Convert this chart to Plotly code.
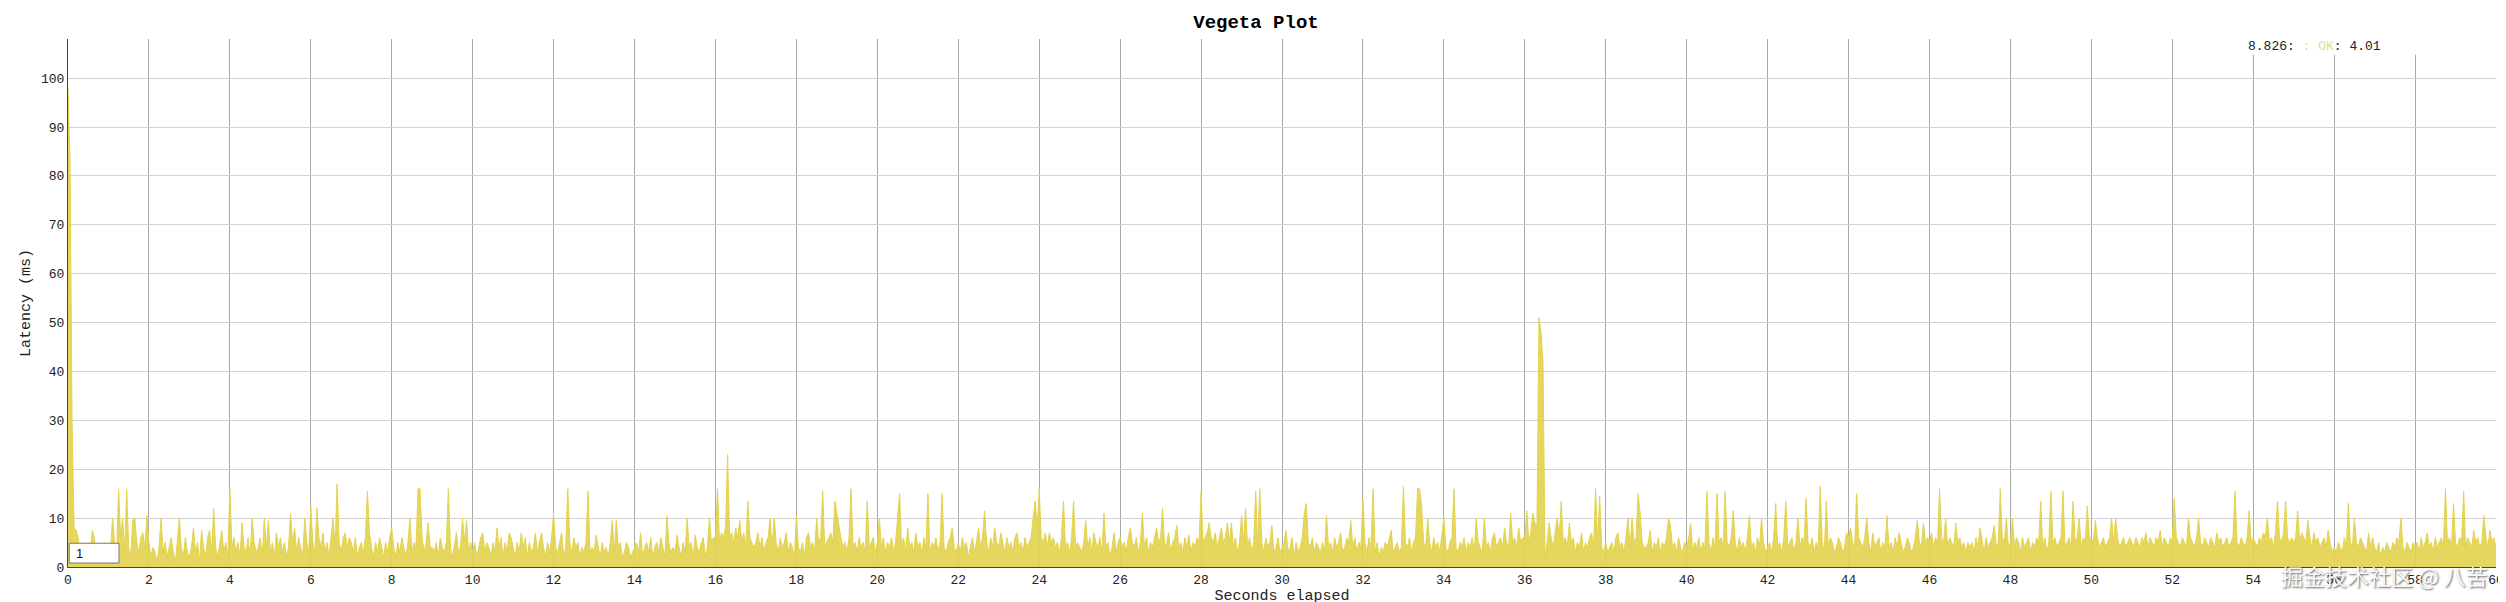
import plotly.graph_objects as go

# Sample spacing of the latency series (seconds)
step = 0.05

# Latency (ms), one row per second elapsed, 20 samples per row
latency_rows = [
    [98, 83, 30, 8, 7.5, 6, 3, 1, 4, 2, 5, 3, 7.5, 6, 2, 4, 1, 3, 5, 2],
    [4, 3, 10, 5, 2, 16, 6, 10, 3, 16, 4, 2, 9.5, 10, 5, 3, 6, 7, 4, 10.5],
    [5, 2, 4, 3, 1, 4, 10, 3, 5, 2, 4, 6, 3, 1, 5, 10, 4, 2, 6, 3],
    [2, 4, 8, 3, 5, 1, 7.5, 4, 2, 6, 7.5, 3, 12, 4, 2, 5, 7.5, 3, 5, 2],
    [16, 4, 6, 3, 5, 2, 9, 4, 3, 6, 2, 10, 5, 3, 4, 6, 2, 10, 4, 9.5],
    [3, 5, 2, 7, 4, 6, 3, 5, 2, 4, 11, 5, 8, 3, 6, 4, 2, 10, 5, 3],
    [12.5, 5, 3, 12, 6, 4, 7, 3, 5, 2, 6, 10, 4, 17, 5, 3, 6, 7, 4, 6],
    [5, 3, 6, 2, 4, 5, 3, 6, 15.5, 7, 4, 2, 5, 3, 6, 4, 2, 5, 3, 6],
    [8, 4, 2, 5, 3, 6, 4, 2, 5, 10, 3, 5, 4, 16, 16, 6, 3, 5, 9, 4],
    [4, 3, 5, 2, 6, 4, 3, 5, 16, 4, 2, 5, 7, 3, 4, 10, 5, 9.5, 3, 5],
    [3, 5, 2, 4, 6, 7, 3, 5, 4, 2, 5, 3, 8, 4, 6, 2, 5, 3, 7, 6],
    [4, 2, 5, 3, 7, 4, 6, 2, 5, 3, 4, 7, 3, 5, 7, 4, 2, 5, 3, 6],
    [11, 4, 3, 5, 7, 2, 4, 16, 5, 3, 6, 4, 5, 2, 4, 3, 5, 15.5, 3, 4],
    [3, 6.5, 4, 2, 5, 3, 4, 2, 5, 9.5, 3, 9.5, 4, 5, 2, 3, 5, 4, 2, 3],
    [4, 5, 3, 7, 2, 4, 5, 3, 6, 2, 4, 5, 3, 6, 4, 2, 10.5, 5, 3, 4],
    [3, 6.5, 4, 2, 5, 3, 10, 4, 5, 2, 6.5, 4, 3, 5, 6, 2, 4, 10, 5, 6],
    [6, 16, 5, 7, 6, 8, 23, 6, 7, 5, 8, 6, 9.5, 5, 7, 4, 13.5, 6, 5, 4],
    [5, 7, 4, 6, 3, 5, 6, 10, 4, 10, 5, 3, 6, 4, 5, 7, 3, 5, 4, 2],
    [10.5, 4, 3, 5, 2, 6, 7, 4, 5, 3, 10, 5, 6, 15.5, 4, 5, 6, 7, 5, 13.5],
    [11, 8, 6, 4, 5, 3, 6, 16, 4, 5, 3, 6, 4, 5, 3, 13.5, 4, 5, 6, 3],
    [5, 10, 4, 6, 3, 5, 4, 6, 3, 5, 10, 15, 4, 6, 3, 8, 4, 5, 3, 7],
    [4, 5, 3, 6, 4, 15, 3, 5, 4, 6, 3, 5, 15, 4, 3, 5, 6, 8, 4, 3],
    [5, 3, 6, 4, 5, 2, 4, 6, 3, 5, 8, 4, 6, 11.5, 5, 3, 6, 4, 8, 5],
    [4, 7, 5, 3, 6, 4, 5, 3, 6, 7, 4, 5, 3, 6, 4, 5, 6, 10, 13.5, 8],
    [16, 6, 5, 7, 4, 7, 5, 6, 4, 5, 3, 6, 13.5, 4, 5, 3, 6, 13.5, 4, 5],
    [4, 3, 5, 9.5, 4, 6, 3, 7, 5, 4, 6, 3, 11, 4, 5, 2, 4, 7, 3, 5],
    [6, 4, 5, 3, 6, 8, 5, 4, 6, 3, 5, 11, 4, 6, 3, 5, 4, 6, 8, 5],
    [6, 12, 4, 5, 7, 3, 5, 6, 8.5, 4, 5, 3, 6, 4, 6.5, 3, 5, 4, 6, 5],
    [15.5, 5, 6, 7, 9, 6, 5, 7, 4, 6, 8, 5, 6, 9, 5, 9, 4, 6, 3, 5],
    [10.5, 5, 12, 4, 6, 3, 5, 15.5, 4, 16, 5, 3, 6, 4, 5, 8.5, 3, 4, 6, 3],
    [4, 5, 7.5, 3, 4, 6, 2, 5, 3, 4, 6, 11, 13, 5, 4, 6, 3, 5, 4, 3],
    [5, 3, 10.5, 4, 5, 3, 6, 4, 5, 7, 3, 4, 6, 5, 9.5, 4, 6, 3, 5, 4],
    [14, 5, 3, 6, 4, 16, 3, 5, 2, 4, 3, 5, 4, 6, 7.5, 3, 4, 5, 3, 4],
    [16.5, 5, 4, 6, 3, 5, 6, 16, 16, 12.5, 5, 4, 10, 5, 3, 6, 4, 5, 3, 6],
    [10, 4, 3, 5, 6, 16, 4, 3, 5, 4, 6, 3, 5, 4, 6, 3, 10, 5, 4, 3],
    [10, 4, 5, 3, 6, 7, 4, 5, 6, 4, 8, 5, 4, 11, 5, 6, 4, 8, 5, 6],
    [6, 11.5, 5, 7, 11, 9, 8, 51, 48, 42, 2, 5, 9, 6, 4, 7, 10, 6, 13.5, 5],
    [6, 4, 9, 5, 6, 3, 5, 4, 7, 3, 5, 4, 6, 7, 4, 16, 5, 14.5, 4, 3],
    [5, 3, 4, 5, 3, 6, 7, 4, 5, 3, 6, 10, 4, 10, 5, 6, 15, 11, 5, 4],
    [4, 5, 7.5, 3, 5, 4, 6, 3, 5, 4, 6, 10, 8.5, 4, 5, 3, 6, 4, 3, 5],
    [4, 6, 9, 3, 5, 4, 6, 3, 5, 4, 15.5, 5, 3, 6, 4, 15, 5, 6, 4, 15.5],
    [5, 4, 6, 11.5, 5, 3, 6, 4, 5, 3, 6, 10.5, 4, 5, 3, 6, 4, 10, 5, 3],
    [4, 5, 3, 6, 13, 4, 5, 3, 6, 13.5, 4, 5, 6, 3, 5, 10, 4, 6, 5, 14],
    [5, 4, 6, 3, 5, 4, 16.5, 5, 3, 13.5, 4, 6, 5, 3, 4, 6, 5, 3, 4, 7],
    [6, 8, 5, 4, 15, 6, 5, 4, 6, 10, 5, 3, 7, 4, 5, 6, 3, 5, 4, 10.5],
    [4, 5, 3, 6, 4, 7, 5, 3, 4, 6, 5, 3, 4, 6, 9.5, 5, 4, 9, 5, 6],
    [5, 7, 4, 6, 5, 16, 6, 5, 10, 4, 6, 5, 4, 9, 5, 6, 4, 5, 3, 5],
    [4, 5, 3, 6, 4, 8, 5, 3, 6, 4, 5, 6, 8.5, 4, 5, 16, 6, 5, 10, 4],
    [5, 10, 4, 6, 5, 3, 6, 4, 5, 6, 3, 5, 4, 6, 5, 13.5, 4, 6, 3, 5],
    [15.5, 5, 6, 4, 5, 6, 15.5, 4, 5, 6, 4, 13.5, 5, 6, 10, 4, 6, 5, 12.5, 6],
    [6, 5, 9.5, 6, 4, 5, 6, 4, 5, 6, 10, 5, 10, 6, 4, 5, 6, 4, 5, 6],
    [5, 4, 6, 5, 4, 6, 5, 7, 4, 6, 5, 4, 6, 5, 7.5, 4, 6, 5, 4, 6],
    [5, 14, 6, 5, 4, 6, 5, 4, 10, 6, 5, 4, 6, 10, 5, 4, 6, 5, 4, 6],
    [5, 4, 7, 5, 6, 4, 5, 6, 4, 5, 6, 15.5, 5, 4, 6, 5, 4, 6, 11.5, 5],
    [6, 5, 4, 6, 5, 7, 6, 10, 5, 6, 4, 7, 13.5, 6, 5, 7, 13.5, 6, 5, 6],
    [5, 6, 11.5, 5, 7, 6, 5, 9.5, 6, 4, 7, 5, 6, 4, 5, 6, 4, 7.5, 5, 3],
    [4, 3, 5, 4, 3, 6, 4, 13, 5, 4, 10, 5, 4, 6, 5, 4, 3, 7, 4, 6],
    [4, 3, 5, 2, 4, 3, 5, 4, 3, 5, 4, 6, 5, 10, 4, 3, 5, 4, 3, 5],
    [4, 5, 3, 6, 4, 5, 7, 4, 5, 3, 6, 4, 5, 6, 4, 16, 5, 6, 4, 13],
    [5, 4, 6, 5, 15.5, 4, 6, 5, 4, 7.5, 5, 6, 4, 5, 10.5, 6, 4, 7.5, 5, 6],
]
latency_last = [4]

x_ticks = list(range(0, 61, 2))
y_ticks = list(range(0, 101, 10))

title_text = "Vegeta Plot"
x_title = "Seconds elapsed"
y_title = "Latency (ms)"
legend_time = "8.826"
legend_series = "OK"
legend_value = "4.01"
watermark = "掘金技术社区 @ 八苦"

latency = [v for row in latency_rows for v in row] + latency_last
seconds = [round(i * step, 2) for i in range(len(latency))]

MONO = "Liberation Mono, Courier New, monospace"
YELLOW = "#e3d34f"

fig = go.Figure()
fig.add_trace(go.Scatter(
    x=seconds, y=latency, mode="lines",
    line=dict(color=YELLOW, width=1),
    fill="tozeroy", fillcolor="rgba(227,211,79,0.92)",
    name=legend_series, showlegend=False, hoverinfo="x+y",
))

fig.update_layout(
    width=2506, height=602,
    margin=dict(l=60, r=10, t=31, b=38),
    paper_bgcolor="white", plot_bgcolor="white",
    font=dict(family=MONO, size=13, color="#222"),
    title=dict(text="<b>" + title_text + "</b>", x=0.498, xanchor="center",
               y=0.977, yanchor="middle", font=dict(family=MONO, size=19, color="#000")),
    xaxis=dict(range=[0, 60], tickvals=x_ticks, ticktext=[str(t) for t in x_ticks],
               showgrid=True, gridcolor="#a9a9a9", gridwidth=1, zeroline=False,
               showline=True, linecolor="#444", linewidth=1, ticks="",
               tickfont=dict(family=MONO, size=13, color="#222"),
               title=dict(text=x_title, standoff=2, font=dict(family=MONO, size=15, color="#222"))),
    yaxis=dict(range=[0, 108], tickvals=y_ticks, ticktext=[str(t) for t in y_ticks],
               showgrid=True, gridcolor="#d2d2d2", gridwidth=1, zeroline=False,
               showline=True, linecolor="#444", linewidth=1, ticks="",
               tickfont=dict(family=MONO, size=13, color="#222"),
               title=dict(text=y_title, standoff=6, font=dict(family=MONO, size=15, color="#222"))),
    shapes=[
        dict(type="rect", xref="paper", yref="paper", x0=0.873, x1=1.0, y0=0.970, y1=1.0,
             fillcolor="white", line=dict(width=0), layer="above"),
        dict(type="rect", xref="paper", yref="paper", x0=0.0005, x1=0.021, y0=0.0075, y1=0.045,
             fillcolor="white", line=dict(color="#777", width=1), layer="above"),
    ],
    annotations=[
        dict(xref="paper", yref="paper", x=0.897, y=0.986, xanchor="left", yanchor="middle",
             showarrow=False, font=dict(family=MONO, size=13, color="#222"),
             text=legend_time + ": <span style='color:#e3dc8c'>: " + legend_series + "</span>: " + legend_value),
        dict(xref="paper", yref="paper", x=0.0025, y=0.026, xanchor="left", yanchor="middle",
             showarrow=False, font=dict(family="Arial, Liberation Sans, sans-serif", size=13, color="#111"),
             text="1"),
        dict(xref="paper", yref="paper", x=0.9975, y=-0.016, xanchor="right", yanchor="middle",
             showarrow=False,
             font=dict(family="Noto Sans CJK SC", size=22, color="rgba(255,255,255,0.95)",
                       shadow="1px 1px 2px #555"),
             text=watermark),
    ],
)

fig.write_html("out.html")
